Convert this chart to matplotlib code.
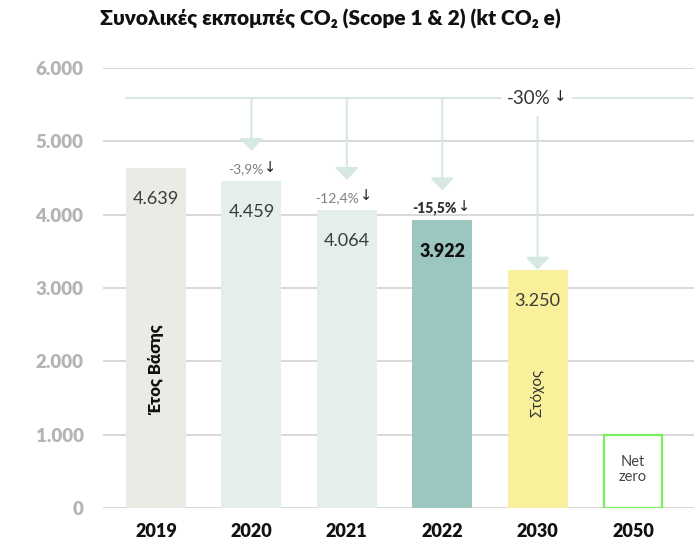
import matplotlib
matplotlib.use("Agg")
import matplotlib.pyplot as plt

plt.rcParams['font.family'] = ['Lato', 'DejaVu Sans']

years = ["2019", "2020", "2021", "2022", "2030", "2050"]
values = [4639, 4459, 4064, 3922, 3250]
value_labels = ["4.639", "4.459", "4.064", "3.922", "3.250"]
pct_labels = ["", "-3,9%", "-12,4%", "-15,5%"]
target_label = "-30%"
netzero_box = 1000
yticks = [0, 1000, 2000, 3000, 4000, 5000, 6000]
ytick_labels = ["0", "1.000", "2.000", "3.000", "4.000", "5.000", "6.000"]
title = "Συνολικές εκπομπές CO₂ (Scope 1 & 2) (kt CO₂ e)"

bar_colors = ["#ebeae4", "#e4efed", "#e4efed", "#9bc7c0", "#f8f09a"]
teal = "#d5e8e4"

fig = plt.figure(figsize=(6.94, 5.42), dpi=100)
ax = fig.add_axes([103/694, 34/542, 591/694, 440/542])
ax.set_xlim(-0.556, 5.64)
ax.set_ylim(0, 6000)
for s in ax.spines.values():
    s.set_visible(False)

for t in yticks:
    ax.axhline(t, color="#d6d6d6", lw=1.3, zorder=0)

ax.set_yticks(yticks)
ax.set_yticklabels(ytick_labels, fontsize=13.5, fontweight='heavy', color="#b4b4b4")
ax.set_xticks(range(len(years)))
ax.set_xticklabels(years, fontsize=13, fontweight='heavy', color="#111111")
ax.tick_params(axis='y', length=0, pad=14)
ax.tick_params(axis='x', length=0, pad=11)

xs = list(range(len(values)))
ax.bar(xs, values, width=0.63, color=bar_colors, zorder=2)
ax.bar(5, netzero_box, width=0.61, facecolor='white', edgecolor='#7af05c', lw=1.6, zorder=2)
ax.text(5, netzero_box/2 + 20, "Net\nzero", ha='center', va='center', fontsize=10.5, color="#444444", linespacing=1.1)

# value labels
for i, (v, lab) in enumerate(zip(values, value_labels)):
    bold = (i == 3)
    ax.annotate(lab, xy=(i, v), xytext=(0, -31), textcoords='offset pixels',
                ha='center', va='center', fontsize=13,
                fontweight='heavy' if bold else 'normal',
                color="#111111" if bold else "#3a3a3a", zorder=3)

# top connector line
yline = 5590
ax.plot([-0.31, 3.616], [yline, yline], color=teal, lw=1.5, zorder=1)
ax.plot([4.37, 5.64], [yline, yline], color=teal, lw=1.5, zorder=1, clip_on=False)
ax.text(4.14, yline, target_label, ha='right', va='center', fontsize=13.5, color="#333333")
ax.text(4.17, yline + 20, "↓", ha='left', va='center', fontsize=11, color="#222222", family=['DejaVu Sans'])

ahead = '-|>,head_length=0.75,head_width=0.72'
for i in [1, 2, 3]:
    v = values[i]
    tip = v + 410
    ax.annotate('', xy=(i, tip), xytext=(i, yline),
                arrowprops=dict(arrowstyle=ahead, color=teal, lw=1.5, shrinkA=0, shrinkB=0))
    bold = (i == 3)
    ax.annotate(pct_labels[i], xy=(i, v), xytext=(15 if bold else 12, 12), textcoords='offset pixels',
                ha='right', va='center', fontsize=10,
                fontweight='heavy' if bold else 'normal',
                color="#333333" if bold else "#808080")
    ax.annotate("↓", xy=(i, v), xytext=(22 if bold else 19, 14), textcoords='offset pixels',
                ha='center', va='center', fontsize=10.5, color="#222222", family=['DejaVu Sans'])

ax.annotate('', xy=(4, values[4]), xytext=(4, 5332),
            arrowprops=dict(arrowstyle=ahead, color=teal, lw=1.5, shrinkA=0, shrinkB=0))

ax.text(0, 1882, "Έτος Βάσης", rotation=90, ha='center', va='center', fontsize=12, fontweight='heavy', color="#111111")
ax.text(4, 1568, "Στόχος", rotation=90, ha='center', va='center', fontsize=11, color="#333333")

fig.text(100/694, 1 - 19/542, title, ha='left', va='center', fontsize=15, fontweight='heavy', color="#111111")

fig.savefig("out.png", dpi=100)
